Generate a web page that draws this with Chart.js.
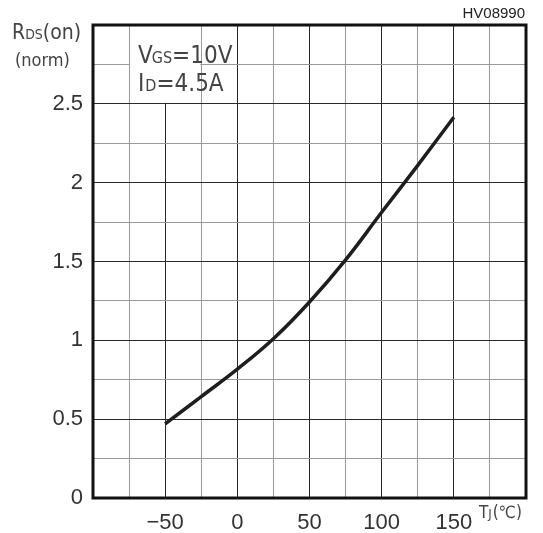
<!DOCTYPE html>
<html>
<head>
<meta charset="utf-8">
<script src="https://cdn.jsdelivr.net/npm/chart.js@4"></script>
<style>
  html, body { margin: 0; padding: 0; background: #fff; }
  #wrap { width: 543px; height: 533px; }
</style>
</head>
<body>
<div id="wrap"><canvas id="rdsChart" width="543" height="533"></canvas></div>
<script>
// junction temperature (degC) vs normalised on-resistance
const temps = [-50, -25, 0, 25, 50, 75, 100, 125, 150];
const rdsNorm = [0.47, 0.643, 0.817, 1.01, 1.243, 1.51, 1.812, 2.11, 2.415];

const xLabels = [-50, 0, 50, 100, 150];
const yLabels = [0, 0.5, 1, 1.5, 2, 2.5];

const ink = '#1e1e1e';
const minorGrid = '#9a9a9a';
const majorGrid = '#2a2a2a';
const narrow = '"Liberation Sans Narrow", "DejaVu Sans Condensed", sans-serif';

// frame, condition box and axis titles
const annotate = {
  id: 'annotate',
  beforeDatasetsDraw(chart) {
    const { ctx, scales: { x, y } } = chart;
    // white box behind the test conditions
    const x0 = x.getPixelForValue(-75) + 1;
    const x1 = x.getPixelForValue(-25) - 1;
    const y0 = y.getPixelForValue(3) + 1;
    const y1 = y.getPixelForValue(2.5) - 1;
    ctx.save();
    ctx.fillStyle = '#fff';
    ctx.fillRect(x0, y0, x1 - x0, y1 - y0);

    ctx.fillStyle = '#444';
    ctx.textBaseline = 'alphabetic';
    let cx = 138;
    ctx.font = '24px ' + narrow;
    ctx.fillText('V', cx, 63); cx += ctx.measureText('V').width - 1;
    ctx.font = '16px ' + narrow;
    ctx.fillText('GS', cx, 63); cx += ctx.measureText('GS').width;
    ctx.font = '24px ' + narrow;
    ctx.fillText('=10V', cx, 63);

    cx = 138;
    ctx.font = '24px ' + narrow;
    ctx.fillText('I', cx, 91); cx += ctx.measureText('I').width + 1;
    ctx.font = '16px ' + narrow;
    ctx.fillText('D', cx, 91); cx += ctx.measureText('D').width;
    ctx.font = '24px ' + narrow;
    ctx.fillText('=4.5A', cx, 91);
    ctx.restore();
  },
  afterDraw(chart) {
    const { ctx, chartArea: a } = chart;
    ctx.save();
    ctx.strokeStyle = '#111';
    ctx.lineWidth = 3;
    ctx.strokeRect(a.left, a.top, a.right - a.left, a.bottom - a.top);

    ctx.fillStyle = '#444';
    ctx.textBaseline = 'alphabetic';
    // y title
    let cx = 12;
    ctx.font = '21px ' + narrow;
    ctx.fillText('R', cx, 39); cx += ctx.measureText('R').width;
    ctx.font = '14px ' + narrow;
    ctx.fillText('DS', cx, 39); cx += ctx.measureText('DS').width;
    ctx.font = '21px ' + narrow;
    ctx.fillText('(on)', cx, 39);
    ctx.font = '18px ' + narrow;
    ctx.fillText('(norm)', 15, 66);

    // x title
    cx = 479;
    ctx.font = '17px ' + narrow;
    ctx.fillText('T', cx, 518); cx += ctx.measureText('T').width;
    ctx.font = '13px ' + narrow;
    ctx.fillText('J', cx, 518); cx += ctx.measureText('J').width + 1;
    ctx.font = '17px ' + narrow;
    ctx.fillText('(℃)', cx, 518);

    // drawing number
    ctx.fillStyle = '#222';
    ctx.font = '15px "Liberation Sans", sans-serif';
    ctx.textAlign = 'right';
    ctx.fillText('HV08990', 525, 18);
    ctx.restore();
  }
};

new Chart(document.getElementById('rdsChart'), {
  type: 'line',
  data: {
    datasets: [{
      data: temps.map((t, i) => ({ x: t, y: rdsNorm[i] })),
      borderColor: ink,
      borderWidth: 3.5,
      pointRadius: 0,
      fill: false,
      tension: 0.4
    }]
  },
  options: {
    responsive: false,
    animation: false,
    layout: { padding: { top: 25, right: 17, bottom: 0, left: 0 } },
    plugins: { legend: { display: false }, tooltip: { enabled: false } },
    scales: {
      x: {
        type: 'linear',
        min: -100,
        max: 200,
        afterFit: s => { s.height = 35; },
        afterBuildTicks: s => { s.ticks = []; for (let v = -100; v <= 200; v += 25) s.ticks.push({ value: v }); },
        border: { display: false },
        grid: {
          drawTicks: false,
          color: c => (c.tick.value % 50 === 0 ? majorGrid : minorGrid)
        },
        ticks: {
          padding: 12,
          color: '#333',
          font: { family: '"Liberation Sans", Arial, sans-serif', size: 22 },
          maxRotation: 0,
          autoSkip: false,
          callback: v => (xLabels.includes(v) ? String(v).replace('-', '−') : '')
        }
      },
      y: {
        type: 'linear',
        min: 0,
        max: 3,
        afterFit: s => { s.width = 93; },
        afterBuildTicks: s => { s.ticks = []; for (let v = 0; v <= 3; v += 0.25) s.ticks.push({ value: v }); },
        border: { display: false },
        grid: {
          drawTicks: false,
          color: c => (Math.abs(c.tick.value * 2 - Math.round(c.tick.value * 2)) < 1e-6 ? majorGrid : minorGrid)
        },
        ticks: {
          padding: 10,
          color: '#333',
          font: { family: '"Liberation Sans", Arial, sans-serif', size: 22 },
          autoSkip: false,
          callback: v => (yLabels.some(l => Math.abs(l - v) < 1e-6) ? String(v) : '')
        }
      }
    }
  },
  plugins: [annotate]
});
</script>
</body>
</html>
